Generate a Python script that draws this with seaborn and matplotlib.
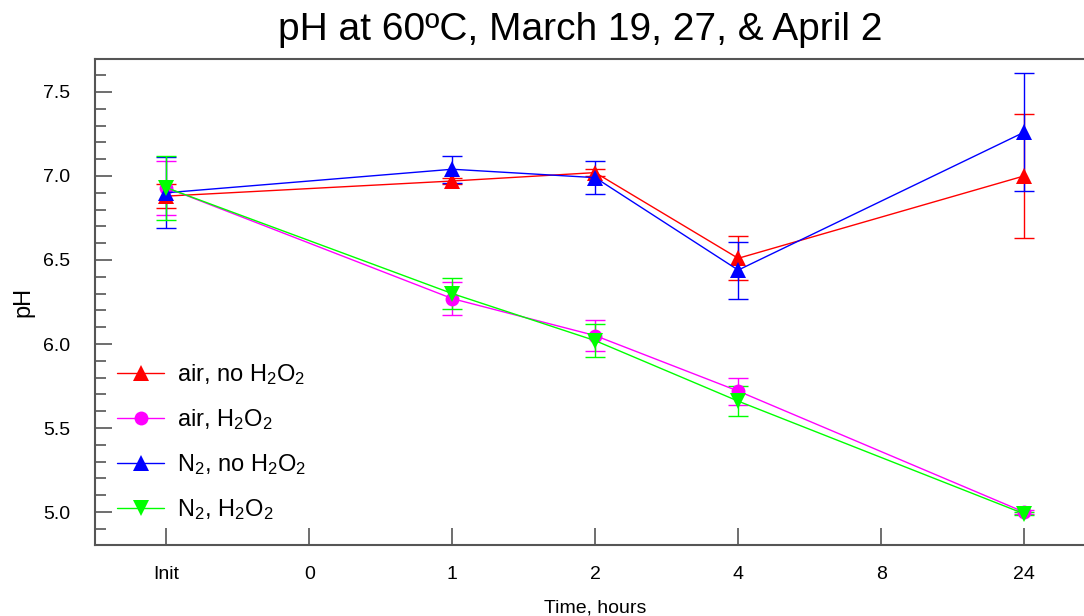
import numpy as np
import pandas as pd
import matplotlib
matplotlib.use("Agg")
import matplotlib.pyplot as plt
from matplotlib.ticker import MultipleLocator
import seaborn as sns

# ---- data ----
tick_labels = ["Init", "0", "1", "2", "4", "8", "24"]
times = ["Init", "1", "2", "4", "24"]

air_no = [6.88, 6.97, 7.02, 6.51, 7.00]
air_no_err = [0.07, 0.02, 0.02, 0.13, 0.37]
air_h2o2 = [6.93, 6.27, 6.05, 5.72, 5.00]
air_h2o2_err = [0.16, 0.10, 0.09, 0.08, 0.01]
n2_no = [6.90, 7.04, 6.99, 6.44, 7.26]
n2_no_err = [0.21, 0.08, 0.10, 0.17, 0.35]
n2_h2o2 = [6.93, 6.30, 6.02, 5.66, 4.99]
n2_h2o2_err = [0.19, 0.09, 0.10, 0.09, 0.01]

series = [
    ("air, no H$_2$O$_2$", air_no, air_no_err, "#ff0000", "^", 11),
    ("air, H$_2$O$_2$", air_h2o2, air_h2o2_err, "#ff00ff", "o", 10),
    ("N$_2$, no H$_2$O$_2$", n2_no, n2_no_err, "#0000ff", "^", 11),
    ("N$_2$, H$_2$O$_2$", n2_h2o2, n2_h2o2_err, "#00ff00", "v", 11),
]

sns.set_theme(style="white")
plt.rcParams["font.family"] = ["Liberation Sans", "DejaVu Sans"]
plt.rcParams["mathtext.default"] = "regular"
plt.rcParams["text.color"] = "black"
plt.rcParams["axes.labelcolor"] = "black"
plt.rcParams["xtick.labelcolor"] = "black"
plt.rcParams["ytick.labelcolor"] = "black"

fig = plt.figure(figsize=(10.84, 6.16), dpi=100)
ax = fig.add_axes([95 / 1084, 71 / 616, 1000.5 / 1084, 486 / 616])

xpos = [tick_labels.index(t) for t in times]
for label, vals, errs, col, mk, ms in series:
    df = pd.DataFrame({"x": xpos, "pH": vals})
    ax.errorbar(xpos, vals, yerr=errs, fmt="none", ecolor=col, elinewidth=1.0,
                capsize=7, capthick=1.0, zorder=2)
    sns.lineplot(data=df, x="x", y="pH", ax=ax, color=col, marker=mk,
                 markersize=ms, markeredgewidth=0, linewidth=1.0,
                 label=label, zorder=3)

ax.set_xlim(-0.5, 6.5)
ax.set_ylim(4.804, 7.696)
ax.set_xticks(range(len(tick_labels)))
ax.set_xticklabels(tick_labels)
ax.yaxis.set_major_locator(MultipleLocator(0.5))
ax.yaxis.set_minor_locator(MultipleLocator(0.1))
ax.yaxis.set_major_formatter(matplotlib.ticker.FormatStrFormatter("%.1f"))

spine_col = "#555555"
for side in ["left", "bottom", "top", "right"]:
    ax.spines[side].set_color(spine_col)
    ax.spines[side].set_linewidth(1.5)
ax.spines["right"].set_visible(False)

ax.tick_params(axis="y", which="major", direction="in", length=12, width=1.2,
               color=spine_col, pad=18, labelsize=14, left=True)
ax.tick_params(axis="y", which="minor", direction="in", length=8, width=1.2,
               color=spine_col, left=True)
ax.tick_params(axis="x", which="major", direction="in", length=12, width=1.2,
               color=spine_col, pad=15, labelsize=14, bottom=True)

ax.set_xlabel("Time, hours", fontsize=14, labelpad=12)
ax.set_ylabel("pH", fontsize=17, labelpad=6)
fig.text(580 / 1084, 1 - 30 / 616, "pH at 60\u00baC, March 19, 27, & April 2",
         fontsize=28, ha="center", va="center", color="black")

leg = ax.legend(loc="lower left", frameon=False, fontsize=17,
                handlelength=2.0, labelspacing=0.85, handletextpad=0.55,
                borderaxespad=0, borderpad=0)
leg.set_bbox_to_anchor((117 / 1084, (616 - 522) / 616), transform=fig.transFigure)

fig.savefig("out.png", dpi=100)
